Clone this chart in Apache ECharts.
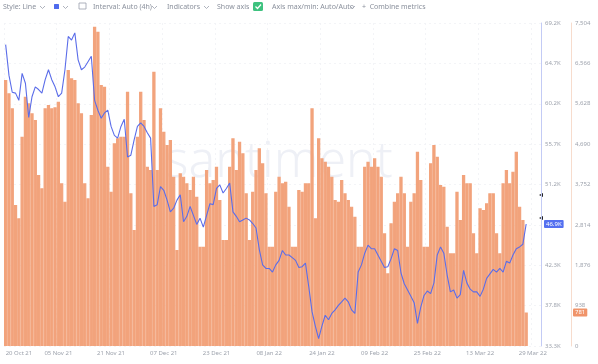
<!DOCTYPE html>
<html><head><meta charset="utf-8">
<script src="https://cdn.jsdelivr.net/npm/echarts@6/dist/echarts.min.js"></script>
<style>html,body{margin:0;padding:0;background:#fff}#c{width:598px;height:364px}</style>
</head><body><div id="c"></div>
<script>
// ---- data ----
const startDate = '2021-10-20';
const dayCount = 163;
const price = [66800,63400,61500,61400,60600,63600,62500,58700,61000,62100,
61800,61400,62900,64000,62900,62100,61000,61400,64000,67700,
67300,68100,65100,64000,64300,64900,65500,60600,59500,58600,
59200,59500,57700,56700,56400,57700,58500,54300,54500,56200,
57700,58100,57700,57000,56400,48800,49000,51000,50600,49500,
48200,48600,49500,50100,47100,47700,48800,47800,46800,47500,
46500,47800,49100,49000,50800,51200,50300,50800,51400,48200,
47700,47100,47300,47500,47300,46900,46400,44000,42300,41900,
41900,41500,42300,42800,43900,43400,43400,43100,42800,42000,
42100,42500,39900,37100,35500,34100,35500,36700,36200,36900,
37300,37800,38200,38600,38200,37300,36900,41500,42300,43600,
44500,44100,44100,43400,42700,42000,42100,43000,44100,43900,
41400,40200,39500,38800,38100,35800,37600,38900,39400,39100,
40300,43400,44300,43600,41200,39300,39500,38600,39000,41700,
40300,39600,39300,39300,38800,39600,40800,41300,41800,41500,
41900,41500,42700,42500,43400,44100,44300,44600,46850];
const volume = [6179,5870,5522,3275,2966,4862,5792,5637,5405,5250,
3972,3663,5522,5599,5522,5545,5676,3779,3353,6412,
6218,6179,5637,5405,3779,3430,5367,7418,7302,6063,
6024,4166,3585,4708,4824,4862,4862,5908,3546,2695,
4862,5908,5250,4166,4089,6373,4089,5522,4979,4669,
4785,3934,2230,4011,3934,3779,3624,3934,3469,2307,
2307,4089,3779,3856,4166,3392,2462,2462,4166,4824,
4089,4747,4476,3546,2462,3585,4089,4592,4244,3546,
2307,2307,3585,3934,3779,3817,3237,2307,2307,3624,
3585,3779,3779,5522,2966,4824,4360,4282,4166,3934,
3392,3353,3856,3546,3392,3237,3004,2307,2307,4166,
4282,4166,4360,4166,3934,2617,1688,2850,3353,3546,
3934,3546,2307,3353,3546,4514,3856,2307,2307,4244,
4669,4398,3740,3701,2772,2152,2152,3585,2927,3972,
3779,3779,2617,2152,3198,3160,3314,3546,3546,2617,
2152,3779,4089,3779,4050,4514,3237,2927,781];
const priceTicks = {min: 33280, max: 69200, interval: 4490};
const volumeTicks = {min: 0, max: 7504, interval: 938};
const toolbarLabels = ['Style: Line', 'Interval: Auto (4h)', 'Indicators', 'Show axis', 'Axis max/min: Auto/Auto', '+  Combine metrics'];

// ---- categories ----
const MON = ['Jan','Feb','Mar','Apr','May','Jun','Jul','Aug','Sep','Oct','Nov','Dec'];
const categories = [];
{
  const d0 = new Date(startDate + 'T00:00:00Z');
  for (let i = 0; i < dayCount; i++) {
    const d = new Date(d0.getTime() + i * 86400000);
    const dd = String(d.getUTCDate()).padStart(2, '0');
    categories.push(dd + ' ' + MON[d.getUTCMonth()] + ' ' + String(d.getUTCFullYear()).slice(2));
  }
}

const chart = echarts.init(document.getElementById('c'), null, {renderer: 'canvas'});
const FONT = 'Noto Sans';
const lastPrice = price[price.length - 1];
const lastVol = volume[volume.length - 1];
const BAR = '#f2a37c';

function chevron(x, y) {
  return {type: 'polyline', shape: {points: [[x, y], [x + 2.5, y + 2.5], [x + 5, y]]},
          style: {stroke: '#9aa0ac', lineWidth: 0.8, fill: null}};
}

chart.setOption({
  animation: false,
  backgroundColor: '#fff',
  textStyle: {fontFamily: FONT},
  grid: {left: 4, right: 57, top: 23, bottom: 18},
  xAxis: {
    type: 'category', data: categories, boundaryGap: true,
    axisLine: {show: false}, axisTick: {show: false},
    axisLabel: {interval: 15, fontSize: 6, color: '#9ea3ad', margin: 4, alignMinLabel: 'left', fontFamily: FONT},
    splitLine: {show: true, interval: 15, lineStyle: {color: '#f0f1f5', type: [2, 3], width: 0.8}}
  },
  yAxis: [
    {
      type: 'value', position: 'right', min: priceTicks.min, max: priceTicks.max, interval: priceTicks.interval,
      axisLine: {show: true, lineStyle: {color: '#c3cbf5', width: 1}}, axisTick: {show: false},
      axisLabel: {fontSize: 6, color: '#9ea3ad', margin: 4, fontFamily: FONT,
                  formatter: v => (v / 1000).toFixed(1) + 'K'},
      splitLine: {show: true, lineStyle: {color: '#f0f1f5', type: [2, 3], width: 0.8}}
    },
    {
      type: 'value', position: 'right', offset: 30, min: volumeTicks.min, max: volumeTicks.max, interval: volumeTicks.interval,
      axisLine: {show: true, lineStyle: {color: '#f7dccd', width: 1}}, axisTick: {show: false},
      axisLabel: {fontSize: 6, color: '#9ea3ad', margin: 4, fontFamily: FONT},
      splitLine: {show: false}
    }
  ],
  series: [
    {
      name: 'Volume', type: 'bar', yAxisIndex: 1, data: volume,
      barCategoryGap: '0%', barGap: '0%',
      itemStyle: {color: BAR, borderColor: BAR, borderWidth: 1.2},
      z: 1,
      markLine: {
        silent: true, symbol: 'none', lineStyle: {color: 'rgba(0,0,0,0)', width: 0},
        data: [{yAxis: lastVol}],
        label: {show: true, position: 'end', distance: 32, formatter: p => String(p.value),
                backgroundColor: '#f0946a', color: '#fff', fontSize: 6, padding: [1, 2], borderRadius: 1, fontFamily: FONT}
      }
    },
    {
      name: 'Price', type: 'line', yAxisIndex: 0, data: price,
      showSymbol: false, symbol: 'none',
      lineStyle: {color: '#5b6de9', width: 1.1},
      z: 3,
      markLine: {
        silent: true, symbol: 'none', lineStyle: {color: 'rgba(0,0,0,0)', width: 0},
        data: [{yAxis: lastPrice}],
        label: {show: true, position: 'end', distance: 3, formatter: p => (p.value / 1000).toFixed(1) + 'K',
                backgroundColor: '#5470f0', color: '#fff', fontSize: 6, padding: [1, 2], borderRadius: 1, fontFamily: FONT}
      }
    }
  ],
  graphic: [
    {type: 'text', left: 165, top: 138, z: 0, silent: true,
     style: {text: 'santiment', fill: '#eef0f6', font: '300 50px ' + FONT}},
    {type: 'text', x: 3, y: 3, style: {text: toolbarLabels[0], fill: '#8a909c', font: '7px ' + FONT}},
    chevron(40, 6),
    {type: 'rect', shape: {x: 54, y: 4, width: 5, height: 5, r: 0.5}, style: {fill: '#4f6bed'}},
    chevron(63, 6),
    {type: 'rect', shape: {x: 79, y: 3, width: 7, height: 6}, style: {fill: null, stroke: '#9aa0ac', lineWidth: 0.8}},
    {type: 'text', x: 93, y: 3, style: {text: toolbarLabels[1], fill: '#8a909c', font: '7px ' + FONT}},
    chevron(152, 6),
    {type: 'text', x: 167, y: 3, style: {text: toolbarLabels[2], fill: '#8a909c', font: '7px ' + FONT}},
    chevron(204, 6),
    {type: 'text', x: 217, y: 3, style: {text: toolbarLabels[3], fill: '#8a909c', font: '7px ' + FONT}},
    {type: 'rect', shape: {x: 253, y: 2, width: 10, height: 9, r: 1.5}, style: {fill: '#3ec27f'}},
    {type: 'polyline', shape: {points: [[255.5, 6.5], [257.5, 8.5], [261, 4.5]]}, style: {stroke: '#fff', lineWidth: 1.2, fill: null}},
    {type: 'text', x: 272, y: 3, style: {text: toolbarLabels[4], fill: '#8a909c', font: '7px ' + FONT}},
    chevron(350, 6),
    {type: 'text', x: 362, y: 3, style: {text: toolbarLabels[5], fill: '#8a909c', font: '7px ' + FONT}},
    {type: 'polygon', shape: {points: [[539, 195], [543, 193], [543, 197]]}, style: {fill: '#222'}},
    {type: 'polygon', shape: {points: [[539, 218], [543, 216], [543, 220]]}, style: {fill: '#222'}}
  ]
});
</script>
</body></html>
